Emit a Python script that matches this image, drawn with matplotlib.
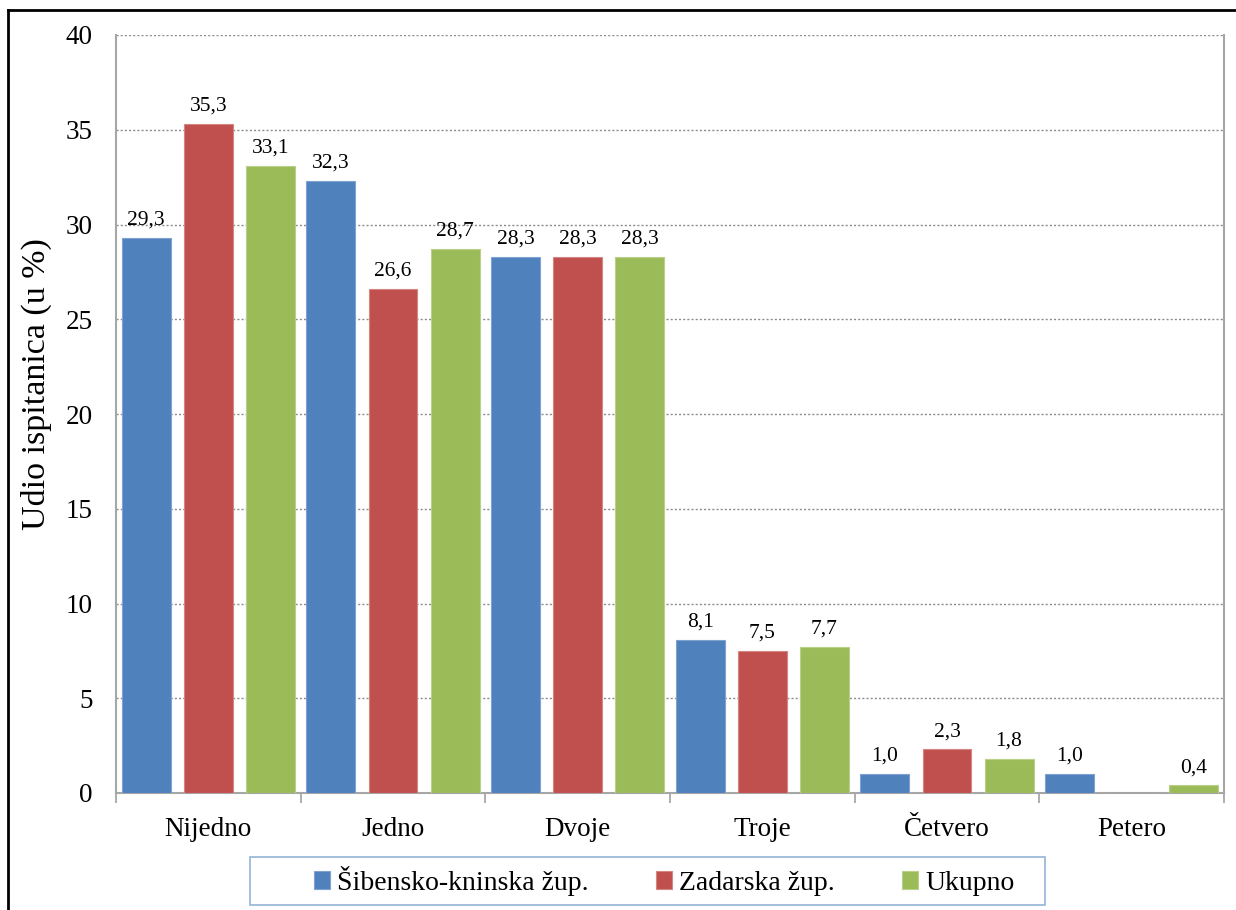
import numpy as np
import matplotlib
matplotlib.use("Agg")
import matplotlib.pyplot as plt
from matplotlib.lines import Line2D
from matplotlib.patches import Rectangle

categories = ["Nijedno", "Jedno", "Dvoje", "Troje", "Četvero", "Petero"]
series_names = ["Šibensko-kninska žup.", "Zadarska žup.", "Ukupno"]
sibenik = [29.3, 32.3, 28.3, 8.1, 1.0, 1.0]
zadar = [35.3, 26.6, 28.3, 7.5, 2.3, 0.0]
ukupno = [33.1, 28.7, 28.3, 7.7, 1.8, 0.4]
colors = ["#4F81BD", "#C0504D", "#9BBB59"]
edges = ["#7FA3D0", "#D48683", "#B8D08A"]

plt.rcParams["font.family"] = ["Liberation Serif", "DejaVu Serif"]

W, H = 1236, 910
fig = plt.figure(figsize=(W / 100, H / 100), dpi=100)
ax = fig.add_axes([116 / W, 1 - 793 / H, (1224 - 116) / W, (793 - 35) / H])

x = np.arange(len(categories))
w = 0.265
offs = [-0.336, 0.0, 0.336]
for vals, off, c, ec, name in zip([sibenik, zadar, ukupno], offs, colors, edges, series_names):
    bars = ax.bar(x + off, vals, width=w, color=c, edgecolor=ec, linewidth=0.8, label=name, zorder=3)
    for b, v in zip(bars, vals):
        if v > 0:
            ax.annotate(f"{v:.1f}".replace(".", ","), (b.get_x() + b.get_width() / 2, v),
                        xytext=(0, 6), textcoords="offset points", ha="center", va="bottom",
                        fontsize=15.5, zorder=4)

ax.set_xlim(-0.5, len(categories) - 0.5)
ax.set_ylim(0, 40)
ax.set_yticks(range(0, 41, 5))
ax.tick_params(axis="y", length=0, labelsize=19.5, pad=17)
ax.set_xticks(x)
ax.set_xticklabels(categories, fontsize=19.5)
ax.tick_params(axis="x", length=0, pad=17)
# category boundary ticks
ax.set_xticks(np.arange(-0.5, len(categories)), minor=True)
ax.tick_params(axis="x", which="minor", length=7, color="#A0A0A0", width=1.2)
ax.yaxis.grid(True, linestyle=(0, (1.5, 1.5)), color="#8C8C8C", linewidth=1.0, zorder=0)
for s in ["left", "right", "bottom"]:
    ax.spines[s].set_color("#A6A6A6")
    ax.spines[s].set_linewidth(1.5)
ax.spines["top"].set_visible(False)
ax.set_ylabel("Udio ispitanica (u %)", fontsize=24.5)
ax.yaxis.set_label_coords(-64 / 1108, (793 - 384) / 758)

# legend box drawn separately (wider than its entries, as in the original)
fig.add_artist(Rectangle((250 / W, 1 - 905 / H), (1045 - 250) / W, 48 / H, transform=fig.transFigure,
                         facecolor="white", edgecolor="#95B3D7", linewidth=1.2))
fig.legend(loc="center", bbox_to_anchor=(664 / W, 1 - 881 / H), ncol=3, fontsize=20,
           frameon=False, handlelength=0.6, handleheight=0.6,
           handletextpad=0.25, columnspacing=2.4, borderpad=0.3, borderaxespad=0)

# outer border (top and left)
fig.add_artist(Line2D([8 / W, 1.0], [1 - 10 / H, 1 - 10 / H], color="black", lw=2, transform=fig.transFigure))
fig.add_artist(Line2D([8 / W, 8 / W], [0.0, 1 - 10 / H], color="black", lw=2, transform=fig.transFigure))

fig.savefig("out.png", dpi=100)
